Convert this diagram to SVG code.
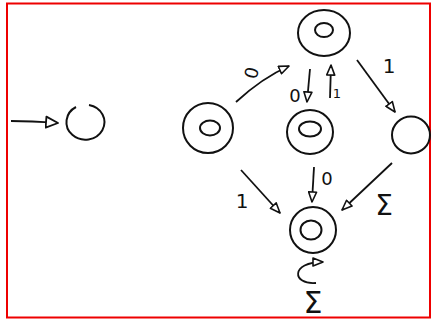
<svg xmlns="http://www.w3.org/2000/svg" width="431" height="320" viewBox="0 0 431 320">
<style>
.n{fill:none;stroke:#111;stroke-width:2}
.e{fill:none;stroke:#111;stroke-width:1.8;marker-end:url(#ah)}
.t{font-family:"DejaVu Sans","Liberation Sans",sans-serif;fill:#111;text-anchor:middle}
</style>
<defs>
<marker id="ah" viewBox="0 0 12 10" refX="11" refY="5" markerWidth="12" markerHeight="10" markerUnits="userSpaceOnUse" orient="auto">
<path d="M1,1 L11,5 L1,9 Z" fill="#fff" stroke="#111" stroke-width="1.6" stroke-linejoin="round"/>
</marker>
<marker id="ahBig" viewBox="0 0 14 14" refX="13" refY="7" markerWidth="14" markerHeight="14" markerUnits="userSpaceOnUse" orient="auto">
<path d="M1,1.5 L13,7 L1,12.5 Z" fill="#fff" stroke="#111" stroke-width="1.8" stroke-linejoin="round"/>
</marker>
</defs>
<rect x="7" y="3.5" width="423" height="314" fill="#fff" stroke="#e00" stroke-width="2"/>

<g id="start">
<path class="n" d="M 89 105 A 19 17.5 0 1 1 76 107"/>
</g>
<g id="nodeA">
<ellipse class="n" cx="208" cy="128" rx="25" ry="25"/>
<ellipse class="n" cx="210" cy="128" rx="10" ry="7.5"/>
</g>
<g id="nodeTop">
<ellipse class="n" cx="324" cy="33" rx="26" ry="23"/>
<ellipse class="n" cx="324" cy="30" rx="9" ry="7"/>
</g>
<g id="nodeMid">
<ellipse class="n" cx="310" cy="132" rx="23" ry="22"/>
<ellipse class="n" cx="310" cy="129" rx="11" ry="7.5"/>
</g>
<g id="nodeRight">
<ellipse class="n" cx="411" cy="135" rx="19" ry="18.5"/>
</g>
<g id="nodeBottom">
<ellipse class="n" cx="313" cy="230" rx="23" ry="23"/>
<ellipse class="n" cx="311" cy="230" rx="10.5" ry="9.5"/>
</g>

<g id="connectors">
<path d="M 11 121 Q 30 121 58 123" fill="none" stroke="#111" stroke-width="2" marker-end="url(#ahBig)"/>
<path class="e" d="M 236 102 Q 262 78 289 66"/>
<path class="e" d="M 310 69 L 307 102"/>
<path class="e" d="M 330 98 L 331 65"/>
<path class="e" d="M 357 60 L 395 112"/>
<path class="e" d="M 241 170 L 280 213"/>
<path class="e" d="M 314 167 L 312 202"/>
<path class="e" d="M 392 163 L 342 210"/>
<path class="e" d="M 316 283 C 292 285 290 262 323 262"/>
</g>

<g id="labels">
<text class="t" x="252" y="79" font-size="18" transform="rotate(-75 252 73)">0</text>
<text class="t" x="295" y="102" font-size="18">0</text>
<text class="t" x="337" y="98" font-size="13">1</text>
<text class="t" x="389" y="73" font-size="20">1</text>
<text class="t" x="242" y="208" font-size="20">1</text>
<text class="t" x="327" y="185" font-size="18">0</text>
<text class="t" x="384" y="215" font-size="28">Σ</text>
<text class="t" x="313" y="313" font-size="30">Σ</text>
</g>
</svg>
